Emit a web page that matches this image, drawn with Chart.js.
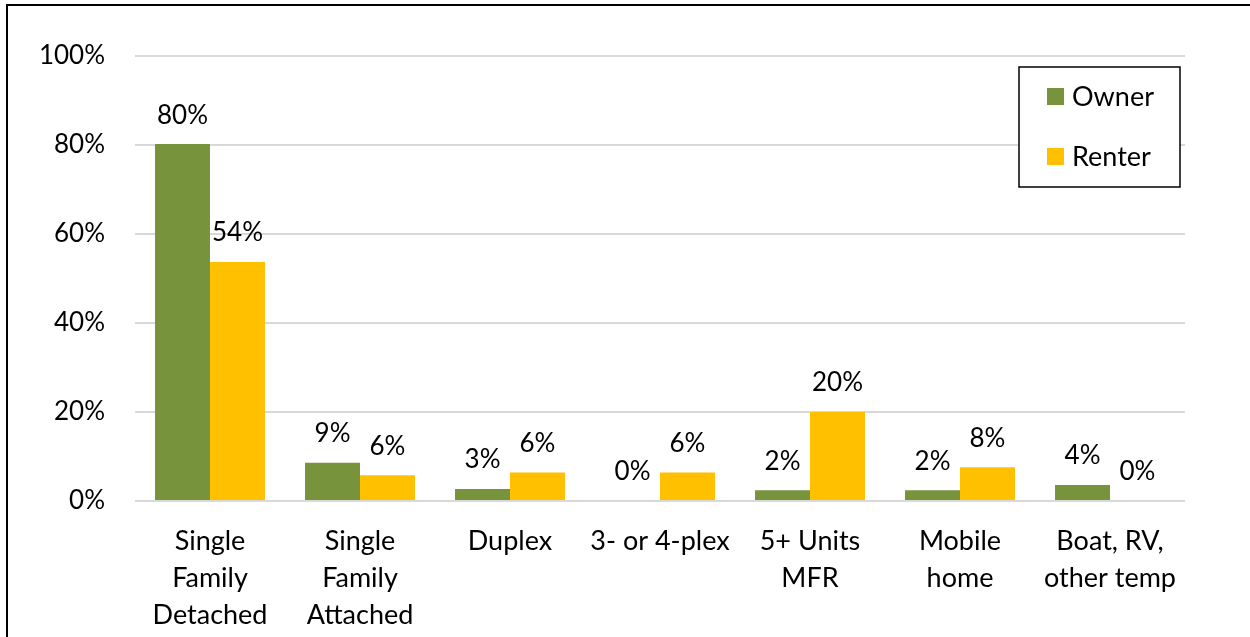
<!DOCTYPE html>
<html>
<head>
<meta charset="utf-8">
<script src="https://cdn.jsdelivr.net/npm/chart.js@4.4.1/dist/chart.umd.min.js"></script>
<style>
  body { margin: 0; background: #fff; overflow: hidden; }
  #frame { position: absolute; left: 6px; top: 4px; width: 1300px; height: 700px; border: 2px solid #000; }
  #myChart { position: absolute; left: 0; top: 0; }
</style>
</head>
<body>
<div id="frame"></div>
<canvas id="myChart" width="1250" height="637"></canvas>
<script>
const categories = [
  ["Single", "Family", "Detached"],
  ["Single", "Family", "Attached"],
  "Duplex",
  "3- or 4-plex",
  ["5+ Units", "MFR"],
  ["Mobile", "home"],
  ["Boat, RV,", "other temp"]
]
const owner = [80.2, 8.6, 2.7, 0, 2.4, 2.4, 3.6]
const renter = [53.7, 5.8, 6.4, 6.4, 20.0, 7.6, 0]
const yTicks = [0, 20, 40, 60, 80, 100]

const seriesNames = ["Owner", "Renter"]
const colors = ["#77933C", "#FFC000"]
const FONT = "Lato, 'Open Sans', sans-serif"

// value labels above each bar
const barLabels = {
  id: "barLabels",
  afterDatasetsDraw(chart) {
    const ctx = chart.ctx
    ctx.save()
    ctx.font = "26px " + FONT
    ctx.fillStyle = "#000"
    ctx.textAlign = "center"
    ctx.textBaseline = "middle"
    chart.data.datasets.forEach((ds, i) => {
      chart.getDatasetMeta(i).data.forEach((bar, j) => {
        ctx.fillText(Math.round(ds.data[j]) + "%", bar.x, bar.y - 29)
      })
    })
    ctx.restore()
  }
}

// boxed legend in the upper right of the plot
const boxLegend = {
  id: "boxLegend",
  afterDraw(chart) {
    const ctx = chart.ctx
    const x0 = 1019, y0 = 67, w = 161, h = 120
    ctx.save()
    ctx.fillStyle = "#fff"
    ctx.fillRect(x0, y0, w, h)
    ctx.strokeStyle = "#000"
    ctx.lineWidth = 1.5
    ctx.strokeRect(x0, y0, w, h)
    ctx.font = "27px " + FONT
    ctx.textBaseline = "middle"
    chart.data.datasets.forEach((ds, i) => {
      const cy = 97 + i * 60
      ctx.fillStyle = ds.backgroundColor
      ctx.fillRect(1047, cy - 9, 17, 17)
      ctx.fillStyle = "#000"
      ctx.fillText(ds.label, 1072, cy)
    })
    ctx.restore()
  }
}

let chart1 = new Chart(document.getElementById("myChart").getContext("2d"), {
  type: "bar",
  data: {
    labels: categories,
    datasets: [
      { label: seriesNames[0], data: owner, backgroundColor: colors[0] },
      { label: seriesNames[1], data: renter, backgroundColor: colors[1] }
    ]
  },
  options: {
    responsive: false,
    animation: false,
    layout: { padding: { top: 56, right: 65, left: 0, bottom: 0 } },
    categoryPercentage: 0.733,
    barPercentage: 1,
    plugins: {
      legend: { display: false },
      tooltip: { enabled: false }
    },
    scales: {
      x: {
        grid: { display: false, drawTicks: false },
        border: { display: false },
        ticks: {
          color: "#000",
          font: { family: FONT, size: 27, lineHeight: 1.37 },
          padding: 22,
          maxRotation: 0,
          autoSkip: false
        },
        afterFit: (s) => { s.height = 136 }
      },
      y: {
        min: 0,
        max: 100,
        afterBuildTicks: (s) => { s.ticks = yTicks.map(v => ({ value: v })) },
        grid: { color: "#d9d9d9", lineWidth: 2, drawTicks: false },
        border: { display: false },
        ticks: {
          color: "#000",
          font: { family: FONT, size: 26 },
          padding: 30,
          callback: (v) => v + "%"
        },
        afterFit: (s) => { s.width = 135 }
      }
    }
  },
  plugins: [barLabels, boxLegend]
})
</script>
</body>
</html>
